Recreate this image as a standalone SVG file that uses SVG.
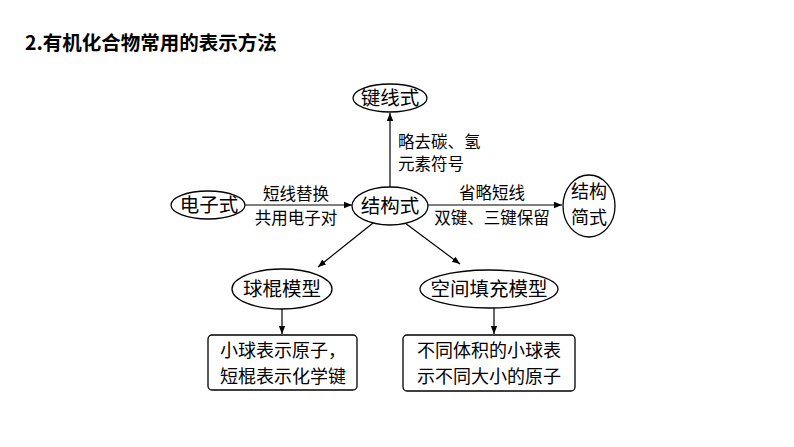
<svg xmlns="http://www.w3.org/2000/svg" width="794" height="447" viewBox="0 0 794 447">
<defs>
<marker id="ah" viewBox="0 0 10 10" refX="10" refY="5" markerWidth="8" markerHeight="8" markerUnits="userSpaceOnUse" orient="auto">
<path d="M0,1 L10,5 L0,9 Z" fill="#000"/>
</marker>
</defs>
<style>
.shape{fill:#fff;stroke:#000;stroke-width:1.3}
.t{font-family:"Noto Sans CJK SC","Noto Sans",sans-serif;font-size:19.5px;fill:#000;text-anchor:middle}
.b{font-family:"Noto Sans CJK SC","Noto Sans",sans-serif;font-size:18px;fill:#000;text-anchor:middle}
.l{font-family:"Noto Sans CJK SC","Noto Sans",sans-serif;font-size:16.5px;fill:#000;text-anchor:middle}
.c{fill:none;stroke:#000;stroke-width:1.2;marker-end:url(#ah)}
</style>
<rect width="794" height="447" fill="#fff"/>
<text x="25" y="50" style="font-family:'Noto Sans CJK SC','Noto Sans',sans-serif;font-size:19.5px;font-weight:bold">2.有机化合物常用的表示方法</text>
<g id="connectors">
<line class="c" x1="390" y1="187" x2="390" y2="113"/>
<line class="c" x1="245" y1="205" x2="352" y2="205"/>
<line class="c" x1="428" y1="205" x2="562" y2="205"/>
<line class="c" x1="373" y1="223" x2="318" y2="267"/>
<line class="c" x1="405" y1="223" x2="460" y2="264"/>
<line class="c" x1="282" y1="309" x2="282" y2="334"/>
<line class="c" x1="494" y1="308" x2="494" y2="334"/>
<text class="l" x="398" y="148" style="text-anchor:start">略去碳、氢</text>
<text class="l" x="398" y="170" style="text-anchor:start">元素符号</text>
<text class="l" x="296" y="200">短线替换</text>
<text class="l" x="296" y="224">共用电子对</text>
<text class="l" x="492" y="199">省略短线</text>
<text class="l" x="492" y="224">双键、三键保留</text>
</g>
<g id="jianxianshi">
<ellipse class="shape" cx="390" cy="98" rx="37" ry="14"/>
<text class="t" x="390" y="105">键线式</text>
</g>
<g id="dianzishi">
<ellipse class="shape" cx="208" cy="205" rx="37" ry="14"/>
<text class="t" x="209" y="212">电子式</text>
</g>
<g id="jiegoushi">
<ellipse class="shape" cx="390" cy="206" rx="38" ry="19"/>
<text class="t" x="390" y="213">结构式</text>
</g>
<g id="jiegoujianshi">
<ellipse class="shape" cx="589" cy="206" rx="26" ry="31"/>
<text class="b" x="589" y="198">结构</text>
<text class="b" x="589" y="224">简式</text>
</g>
<g id="qiugun">
<ellipse class="shape" cx="282" cy="289" rx="50" ry="20"/>
<text class="t" x="282" y="296">球棍模型</text>
</g>
<g id="kongjian">
<ellipse class="shape" cx="489" cy="289" rx="69" ry="19"/>
<text class="t" x="489" y="296">空间填充模型</text>
</g>
<g id="box1">
<rect class="shape" x="208" y="335" width="149" height="55" rx="4"/>
<text class="b" x="283" y="357">小球表示原子，</text>
<text class="b" x="283" y="383">短棍表示化学键</text>
</g>
<g id="box2">
<rect class="shape" x="403" y="335" width="172" height="56" rx="4"/>
<text class="b" x="489" y="357">不同体积的小球表</text>
<text class="b" x="489" y="383">示不同大小的原子</text>
</g>
</svg>
